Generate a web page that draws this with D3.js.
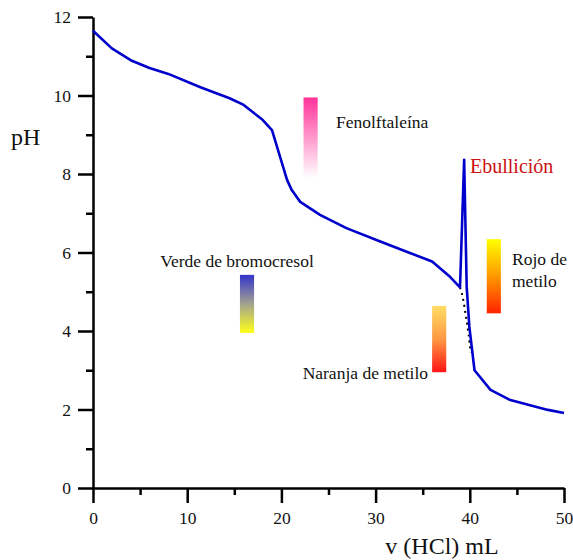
<!DOCTYPE html>
<html>
<head>
<meta charset="utf-8">
<script src="https://cdn.jsdelivr.net/npm/d3@7"></script>
<style>
  html, body { margin: 0; padding: 0; background: #fff; }
  svg { display: block; }
  text { font-family: "Liberation Serif", "Times New Roman", serif; fill: #111; }
</style>
</head>
<body>
<svg id="chart" width="573" height="560"></svg>
<script>
// Titration curve: volume of HCl added (mL) vs pH
const volume = [0, 2, 4, 6, 8, 11.4, 14.5, 16, 18, 19, 20.6, 21.1, 22, 24.1, 26.9, 30.5, 33.3, 36, 37.9, 38.96, 39.4, 39.67, 39.95, 40.5, 42.2, 44.3, 46.4, 48.3, 50];
const pH     = [11.65, 11.2, 10.9, 10.7, 10.55, 10.21, 9.93, 9.76, 9.38, 9.12, 7.85, 7.59, 7.29, 6.96, 6.62, 6.28, 6.02, 5.77, 5.38, 5.11, 8.36, 5.13, 4.11, 3.0, 2.5, 2.24, 2.11, 1.99, 1.91];

// Expected course of the curve without boiling (dotted)
const dottedVolume = [38.96, 39.3, 39.6, 39.85, 40.1];
const dottedPH     = [5.11, 4.8, 4.35, 3.95, 3.45];

// Indicator turning ranges
const indicatorNames = ["Fenolftaleína", "Verde de bromocresol", "Naranja de metilo", "Rojo de metilo"];
const indicatorVolume = [22.35, 15.6, 36.0, 41.8];
const indicatorLow  = [7.9, 3.95, 2.95, 4.45];
const indicatorHigh = [9.95, 5.43, 4.64, 6.34];

const xMajorTicks = [0, 10, 20, 30, 40, 50];
const xMinorTicks = [5, 15, 25, 35, 45];
const yMajorTicks = [0, 2, 4, 6, 8, 10, 12];
const yMinorTicks = [1, 3, 5, 7, 9, 11];

const svg = d3.select("#chart");

const x = d3.scaleLinear().domain([0, 50]).range([93, 564]);
const y = d3.scaleLinear().domain([0, 12]).range([488, 17]);

// gradients for the indicator bars
const gradStops = [
  [["0%", "#ff3399"], ["100%", "#ffffff"]],
  [["0%", "#3333cc"], ["50%", "#a3a38f"], ["100%", "#ffff1a"]],
  [["0%", "#ffdd66"], ["50%", "#ff9944"], ["100%", "#ff1414"]],
  [["0%", "#ffff00"], ["50%", "#ff9900"], ["100%", "#ff2200"]]
];
const defs = svg.append("defs");
gradStops.forEach((stops, i) => {
  const g = defs.append("linearGradient")
    .attr("id", "ind" + i)
    .attr("x1", 0).attr("y1", 0).attr("x2", 0).attr("y2", 1);
  stops.forEach(s => g.append("stop").attr("offset", s[0]).attr("stop-color", s[1]));
});

const barWidth = 1.5; // mL
svg.append("g").selectAll("rect")
  .data(indicatorNames)
  .join("rect")
  .attr("x", (d, i) => x(indicatorVolume[i]))
  .attr("y", (d, i) => y(indicatorHigh[i]))
  .attr("width", (d, i) => x(indicatorVolume[i] + barWidth) - x(indicatorVolume[i]))
  .attr("height", (d, i) => y(indicatorLow[i]) - y(indicatorHigh[i]))
  .attr("fill", (d, i) => `url(#ind${i})`);

// axes
function styleAxis(g) {
  g.selectAll("path, line").attr("stroke", "#000").attr("stroke-width", 2.5);
  g.selectAll("text").attr("font-size", 17.5).attr("fill", "#111")
    .attr("font-family", '"Liberation Serif", serif');
}

svg.append("g").attr("transform", `translate(0,${y(0)})`)
  .call(d3.axisBottom(x).tickValues(xMajorTicks).tickSize(15).tickSizeOuter(0).tickPadding(9))
  .call(styleAxis);
svg.append("g").attr("transform", `translate(0,${y(0)})`)
  .call(d3.axisBottom(x).tickValues(xMinorTicks).tickSize(7).tickSizeOuter(0).tickFormat(""))
  .call(styleAxis)
  .call(g => g.select(".domain").remove());

svg.append("g").attr("transform", `translate(${x(0)},0)`)
  .call(d3.axisLeft(y).tickValues(yMajorTicks).tickSize(15).tickSizeOuter(0).tickPadding(7))
  .call(styleAxis);
svg.append("g").attr("transform", `translate(${x(0)},0)`)
  .call(d3.axisLeft(y).tickValues(yMinorTicks).tickSize(7).tickSizeOuter(0).tickFormat(""))
  .call(styleAxis)
  .call(g => g.select(".domain").remove());

// axis titles
svg.append("text").attr("x", 11).attr("y", 145).attr("font-size", 24).text("pH");
svg.append("text").attr("x", 442).attr("y", 554).attr("text-anchor", "middle")
  .attr("font-size", 24).text("v (HCl) mL");

// dotted theoretical segment
svg.append("path")
  .datum(dottedVolume.map((v, i) => [v, dottedPH[i]]))
  .attr("fill", "none").attr("stroke", "#000").attr("stroke-width", 2)
  .attr("stroke-dasharray", "2,4")
  .attr("d", d3.line().x(d => x(d[0])).y(d => y(d[1])).curve(d3.curveMonotoneX));

// measured curve
svg.append("path")
  .datum(volume.map((v, i) => [v, pH[i]]))
  .attr("fill", "none").attr("stroke", "#0000cc").attr("stroke-width", 2.6)
  .attr("stroke-linejoin", "round")
  .attr("d", d3.line().x(d => x(d[0])).y(d => y(d[1])));

// indicator labels
const lab = svg.append("g").attr("font-size", 17.5);
lab.append("text").attr("x", 336).attr("y", 128).text(indicatorNames[0]);
lab.append("text").attr("x", 237).attr("y", 267).attr("text-anchor", "middle").text(indicatorNames[1]);
lab.append("text").attr("x", 428).attr("y", 379).attr("text-anchor", "end").text(indicatorNames[2]);
const rojo = lab.append("text").attr("x", 512).attr("y", 265);
rojo.append("tspan").attr("x", 512).text("Rojo de");
rojo.append("tspan").attr("x", 512).attr("y", 287).text("metilo");

svg.append("text").attr("x", 470).attr("y", 173).attr("font-size", 20)
  .style("fill", "#cc1111").text("Ebullición");
</script>
</body>
</html>
